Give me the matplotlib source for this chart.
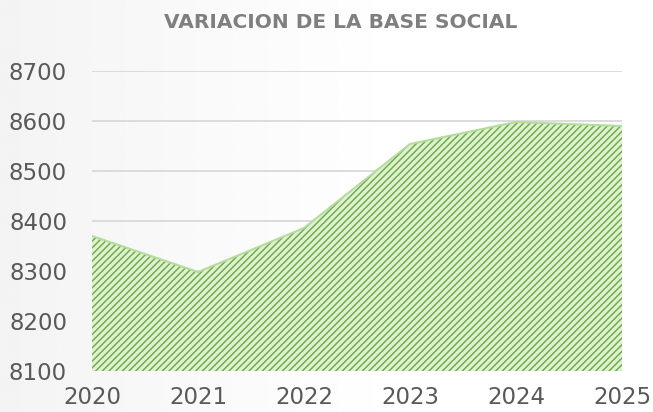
import numpy as np
import matplotlib
matplotlib.use("Agg")
import matplotlib.pyplot as plt

years = [2020, 2021, 2022, 2023, 2024, 2025]
socios = [8370, 8298, 8386, 8554, 8598, 8590]
yticks = [8100, 8200, 8300, 8400, 8500, 8600, 8700]

plt.rcParams['font.family'] = ['DejaVu Sans']
plt.rcParams['hatch.linewidth'] = 1.1

fig = plt.figure(figsize=(6.53, 4.12), dpi=100)

# soft grey-to-white background
bg = fig.add_axes([0, 0, 1, 1], zorder=-10)
grad = np.linspace(0, 1, 256)
grad = 0.955 + 0.045 * np.clip(grad * 1.6, 0, 1)
bg.imshow(np.tile(grad, (10, 1)), cmap='gray', vmin=0, vmax=1, aspect='auto',
          extent=[0, 1, 0, 1])
bg.axis('off')

ax = fig.add_axes([0.141, 0.0995, 0.8115, 0.7282])
ax.patch.set_alpha(0)

ax.fill_between(years, socios, 8100, facecolor='#e0f1d5', edgecolor='#6fb044',
                hatch='/////', linewidth=0, zorder=2)
ax.plot(years, socios, color='#b5dc9c', linewidth=1.5, zorder=3)

ax.set_xlim(2020, 2025)
ax.set_ylim(8100, 8700)
ax.set_yticks(yticks)
ax.set_xticks(years)
ax.grid(axis='y', color='#d9d9d9', linewidth=1.3, zorder=0)
ax.set_axisbelow(True)
for s in ax.spines.values():
    s.set_visible(False)
ax.tick_params(length=0, labelsize=16.5, labelcolor='#595959')
ax.tick_params(axis='x', pad=11)
ax.tick_params(axis='y', pad=18)

fig.text(0.522, 0.945, 'VARIACION DE LA BASE SOCIAL', ha='center', va='center',
         fontsize=14.5, fontweight='bold', color='#7f7f7f')

fig.savefig('out.png', dpi=100)
